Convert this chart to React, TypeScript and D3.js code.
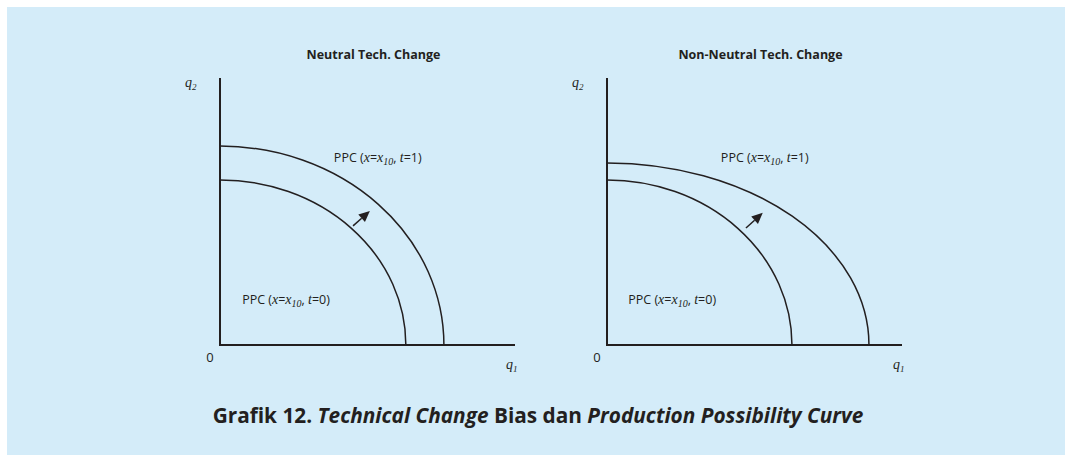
import React from "react";
import * as d3 from "d3";

// ---- data (conceptual units, 0..100 on each axis) ----
const panelTitles = ["Neutral Tech. Change", "Non-Neutral Tech. Change"];
// PPC intercepts [q1 intercept, q2 intercept]
const ppcT0 = [
  [63.0, 61.8],
  [62.7, 61.8],
];
const ppcT1 = [
  [75.9, 74.5],
  [88.8, 68.2],
];
// arrow start / end in data units
const arrowFrom = [
  [45.1, 44.6],
  [47.1, 43.8],
];
const arrowTo = [
  [50.8, 50.2],
  [52.8, 49.5],
];
// label anchors
const labelT1Pos = [
  [38.6, 68.5],
  [38.6, 68.5],
];
const labelT0Pos = [
  [7.5, 15.4],
  [7.2, 15.4],
];
const caption = ["Grafik 12. ", "Technical Change", " Bias dan ", "Production Possibility Curve"];

const W = 1065;
const H = 455;
const panelOrigins = [220, 607];
const sans = "'Open Sans', 'Noto Sans', sans-serif";
const serif = "'Liberation Serif', 'DejaVu Serif', serif";
const ink = "#231f20";

function PPCLabel({ x, y, t }: { x: number; y: number; t: string }) {
  return (
    <text x={x} y={y} fontFamily={sans} fontSize={12.5} fill={ink}>
      <tspan>PPC (</tspan>
      <tspan fontFamily={serif} fontStyle="italic" fontSize={14}>x</tspan>
      <tspan>=</tspan>
      <tspan fontFamily={serif} fontStyle="italic" fontSize={14}>x</tspan>
      <tspan fontFamily={serif} fontStyle="italic" fontSize={10} dy={3}>10</tspan>
      <tspan dy={-3}>, </tspan>
      <tspan fontFamily={serif} fontStyle="italic" fontSize={14}>t</tspan>
      <tspan>={t})</tspan>
    </text>
  );
}

function Panel({ i }: { i: number }) {
  const x0 = panelOrigins[i];
  const x = d3.scaleLinear().domain([0, 100]).range([x0, x0 + 295]);
  const y = d3.scaleLinear().domain([0, 100]).range([345, 78]);

  const arc = (ab: number[]) => {
    const rx = x(ab[0]) - x(0);
    const ry = y(0) - y(ab[1]);
    return `M${x(0)},${y(ab[1])} A${rx},${ry} 0 0 1 ${x(ab[0])},${y(0)}`;
  };

  const ax1 = x(arrowFrom[i][0]);
  const ay1 = y(arrowFrom[i][1]);
  const ax2 = x(arrowTo[i][0]);
  const ay2 = y(arrowTo[i][1]);
  const ang = Math.atan2(ay2 - ay1, ax2 - ax1);
  const hl = 11;
  const hw = 5;
  const bx = ax2 - hl * Math.cos(ang);
  const by = ay2 - hl * Math.sin(ang);
  const head = `M${ax2},${ay2} L${bx + hw * Math.sin(ang)},${by - hw * Math.cos(ang)} L${bx - hw * Math.sin(ang)},${by + hw * Math.cos(ang)} Z`;

  return (
    <g>
      <text x={x(50) + 6} y={59} textAnchor="middle" fontFamily={sans} fontWeight="bold" fontSize={12.5} fill={ink}>
        {panelTitles[i]}
      </text>
      {/* axes */}
      <line x1={x(0)} y1={y(100)} x2={x(0)} y2={y(0) + 1} stroke={ink} strokeWidth={2} />
      <line x1={x(0) - 1} y1={y(0)} x2={x(100)} y2={y(0)} stroke={ink} strokeWidth={2} />
      <text x={x(0) - 10} y={362} textAnchor="middle" fontFamily={sans} fontSize={13} fill={ink}>0</text>
      <text x={x(100) - 9} y={369} fontFamily={serif} fontStyle="italic" fontSize={14} fill={ink}>
        q<tspan fontSize={9} dy={3}>1</tspan>
      </text>
      <text x={x(0) - 35} y={87} fontFamily={serif} fontStyle="italic" fontSize={14} fill={ink}>
        q<tspan fontSize={9} dy={3}>2</tspan>
      </text>
      {/* curves */}
      <path d={arc(ppcT0[i])} fill="none" stroke={ink} strokeWidth={1.5} />
      <path d={arc(ppcT1[i])} fill="none" stroke={ink} strokeWidth={1.5} />
      {/* arrow */}
      <line x1={ax1} y1={ay1} x2={bx} y2={by} stroke={ink} strokeWidth={1.5} />
      <path d={head} fill={ink} />
      <PPCLabel x={x(labelT1Pos[i][0])} y={y(labelT1Pos[i][1])} t="1" />
      <PPCLabel x={x(labelT0Pos[i][0])} y={y(labelT0Pos[i][1])} t="0" />
    </g>
  );
}

export default function App() {
  return (
    <div style={{ position: "absolute", left: 0, top: 0 }}>
      <svg width={W} height={H} style={{ display: "block", background: "#ffffff" }}>
        <rect x={7} y={7} width={W - 7} height={H - 7} fill="#d4ecf9" />
        <Panel i={0} />
        <Panel i={1} />
        <text x={538} y={423} textAnchor="middle" fontFamily={sans} fontWeight="bold" fontSize={20.8} fill={ink}>
          <tspan>{caption[0]}</tspan>
          <tspan fontStyle="italic">{caption[1]}</tspan>
          <tspan>{caption[2]}</tspan>
          <tspan fontStyle="italic">{caption[3]}</tspan>
        </text>
      </svg>
    </div>
  );
}
